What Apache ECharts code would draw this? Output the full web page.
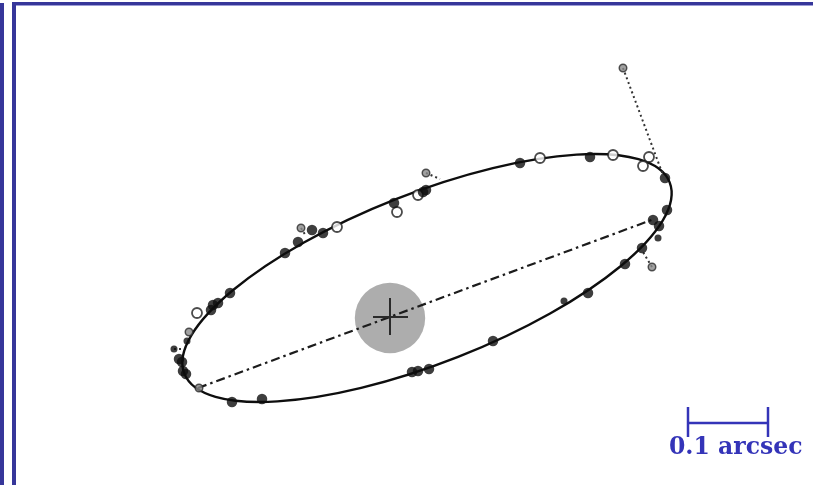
<!DOCTYPE html>
<html>
<head>
<meta charset="utf-8">
<script src="https://cdn.jsdelivr.net/npm/echarts@6/dist/echarts.min.js"></script>
<style>
  html, body { margin: 0; padding: 0; background: #ffffff; }
  #chart { width: 813px; height: 485px; }
</style>
</head>
<body>
<div id="chart"></div>
<script>
// Relative astrometry of the companion, offsets in milliarcseconds from the primary.
// Filled dots: measured positions; open rings: measurements of lower weight.
const filledObs = [
  [162.5, 193.75], [250, 201.25], [343.75, 175], [346.25, 135], [328.75, 122.5],
  [336.25, 115], [315, 87.5], [293.75, 67.5], [247.5, 31.25], [128.75, -28.75],
  [48.75, -63.75], [35, -66.25], [27.5, -67.5], [-200, 31.25], [-215, 18.75],
  [-221.25, 16.25], [-223.75, 10], [-263.75, -51.25], [-260, -55], [-258.75, -66.25],
  [-255, -70], [-197.5, -105], [-160, -101.25], [-131.25, 81.25], [-115, 95],
  [-97.5, 110], [-83.75, 106.25], [5, 143.75], [41.25, 157.5], [45, 160]
];
const filledSmallObs = [
  [335, 100], [217.5, 21.25], [-253.75, -28.75], [-270, -38.75]
];
const openObs = [
  [187.5, 200], [278.75, 203.75], [323.75, 201.25], [316.25, 190],
  [-241.25, 6.25], [-66.25, 113.75], [8.75, 132.5], [35, 153.75]
];
const openSmallObs = [
  [291.25, 312.5], [327.5, 63.75], [-251.25, -17.5], [-238.75, -87.5],
  [-111.25, 112.5], [45, 181.25]
];
// O–C residual connectors: [observed, predicted]
const residuals = [
  [[291.25, 312.5], [341.25, 178.75]],
  [[327.5, 63.75], [316.25, 82.5]],
  [[45, 181.25], [62.5, 173.75]],
  [[-111.25, 112.5], [-105, 102.5]],
  [[-270, -38.75], [-258.75, -38.75]]
];
// Apparent orbit: centre x, centre y, semi-major, semi-minor (mas), position angle of major axis (deg)
const orbitEllipse = [[46.25, 50, 326, 106, 21.5]];
// Line through the primary joining the two orbit crossings
const nodeLine = [[-240, -87.5], [331, 124]];
// Primary star: x, y, radius (mas)
const primaryDisc = [[0, 0, 44]];
const primaryCrossH = [[-21.25, 1.25], [22.5, 1.25]];
const primaryCrossV = [[0, 25], [0, -21.25]];
// Scale bar: 100 mas
const scaleBar = [[372.5, -131.25], [472.5, -131.25]];
const scaleTickL = [[372.5, -111.25], [372.5, -148.75]];
const scaleTickR = [[472.5, -111.25], [472.5, -148.75]];
const scaleLabel = '0.1 arcsec';

const frameBlue = '#36369a';
const textBlue = '#3434b8';
const ink = '#0e0e0e';

const chart = echarts.init(document.getElementById('chart'), null, { renderer: 'canvas' });

function segment(data, style, z) {
  return {
    type: 'line', data: data, symbol: 'none', silent: true, z: z || 3,
    animation: false, lineStyle: style
  };
}

const series = [
  {
    type: 'custom', z: 1, silent: true, animation: false,
    data: primaryDisc,
    renderItem: function (params, api) {
      const c = api.coord([api.value(0), api.value(1)]);
      const r = api.size([api.value(2), 0])[0];
      return { type: 'circle', shape: { cx: c[0], cy: c[1], r: r }, style: { fill: '#adadad' } };
    }
  },
  segment(primaryCrossH, { color: '#2a2a2a', width: 2 }, 4),
  segment(primaryCrossV, { color: '#2a2a2a', width: 2 }, 4),
  segment(nodeLine, { color: '#1c1c1c', width: 2.2, type: [9, 4, 2.5, 4] }, 3),
  {
    type: 'custom', z: 2, silent: true, animation: false,
    data: orbitEllipse,
    renderItem: function (params, api) {
      const c = api.coord([api.value(0), api.value(1)]);
      const rx = api.size([api.value(2), 0])[0];
      const ry = api.size([0, api.value(3)])[1];
      return {
        type: 'ellipse', x: c[0], y: c[1], rotation: api.value(4) * Math.PI / 180,
        shape: { cx: 0, cy: 0, rx: rx, ry: ry },
        style: { fill: 'none', stroke: ink, lineWidth: 2.4 }
      };
    }
  }
];
residuals.forEach(function (pair) {
  series.push(segment(pair, { color: '#333', width: 2, type: [2, 3] }, 3));
});
series.push(
  {
    type: 'scatter', data: openObs, symbol: 'circle', symbolSize: 10, z: 5, animation: false,
    itemStyle: { color: '#ffffff', borderColor: '#1e1e1e', borderWidth: 1.8 }
  },
  {
    type: 'scatter', data: openSmallObs, symbol: 'circle', symbolSize: 7.5, z: 5, animation: false,
    itemStyle: { color: '#8a8a8a', borderColor: '#2c2c2c', borderWidth: 1.5 }
  },
  {
    type: 'scatter', data: filledObs, symbol: 'circle', symbolSize: 10.5, z: 6, animation: false,
    itemStyle: { color: ink }
  },
  {
    type: 'scatter', data: filledSmallObs, symbol: 'circle', symbolSize: 7, z: 6, animation: false,
    itemStyle: { color: ink }
  },
  segment(scaleBar, { color: textBlue, width: 2.5 }, 5),
  segment(scaleTickL, { color: textBlue, width: 2.5 }, 5),
  segment(scaleTickR, { color: textBlue, width: 2.5 }, 5)
);

chart.setOption({
  backgroundColor: '#ffffff',
  animation: false,
  grid: { left: 0, right: 0, top: 0, bottom: 0 },
  xAxis: { type: 'value', min: -487.5, max: 528.75, show: false },
  yAxis: { type: 'value', min: -208.75, max: 397.5, show: false },
  graphic: [
    { type: 'rect', shape: { x: 0, y: 3, width: 4, height: 482 }, style: { fill: frameBlue }, z: 10 },
    { type: 'rect', shape: { x: 12, y: 3, width: 4, height: 482 }, style: { fill: frameBlue }, z: 10 },
    { type: 'rect', shape: { x: 12, y: 2, width: 801, height: 4 }, style: { fill: frameBlue }, z: 10 },
    { type: 'rect', shape: { x: 16, y: 5, width: 797, height: 1 }, style: { fill: '#9c9cd6' }, z: 10 },
    {
      type: 'text', left: 669, top: 436, z: 10,
      style: {
        text: scaleLabel, fill: textBlue,
        font: 'bold 23.5px "DejaVu Serif"'
      }
    }
  ],
  series: series
});
</script>
</body>
</html>
